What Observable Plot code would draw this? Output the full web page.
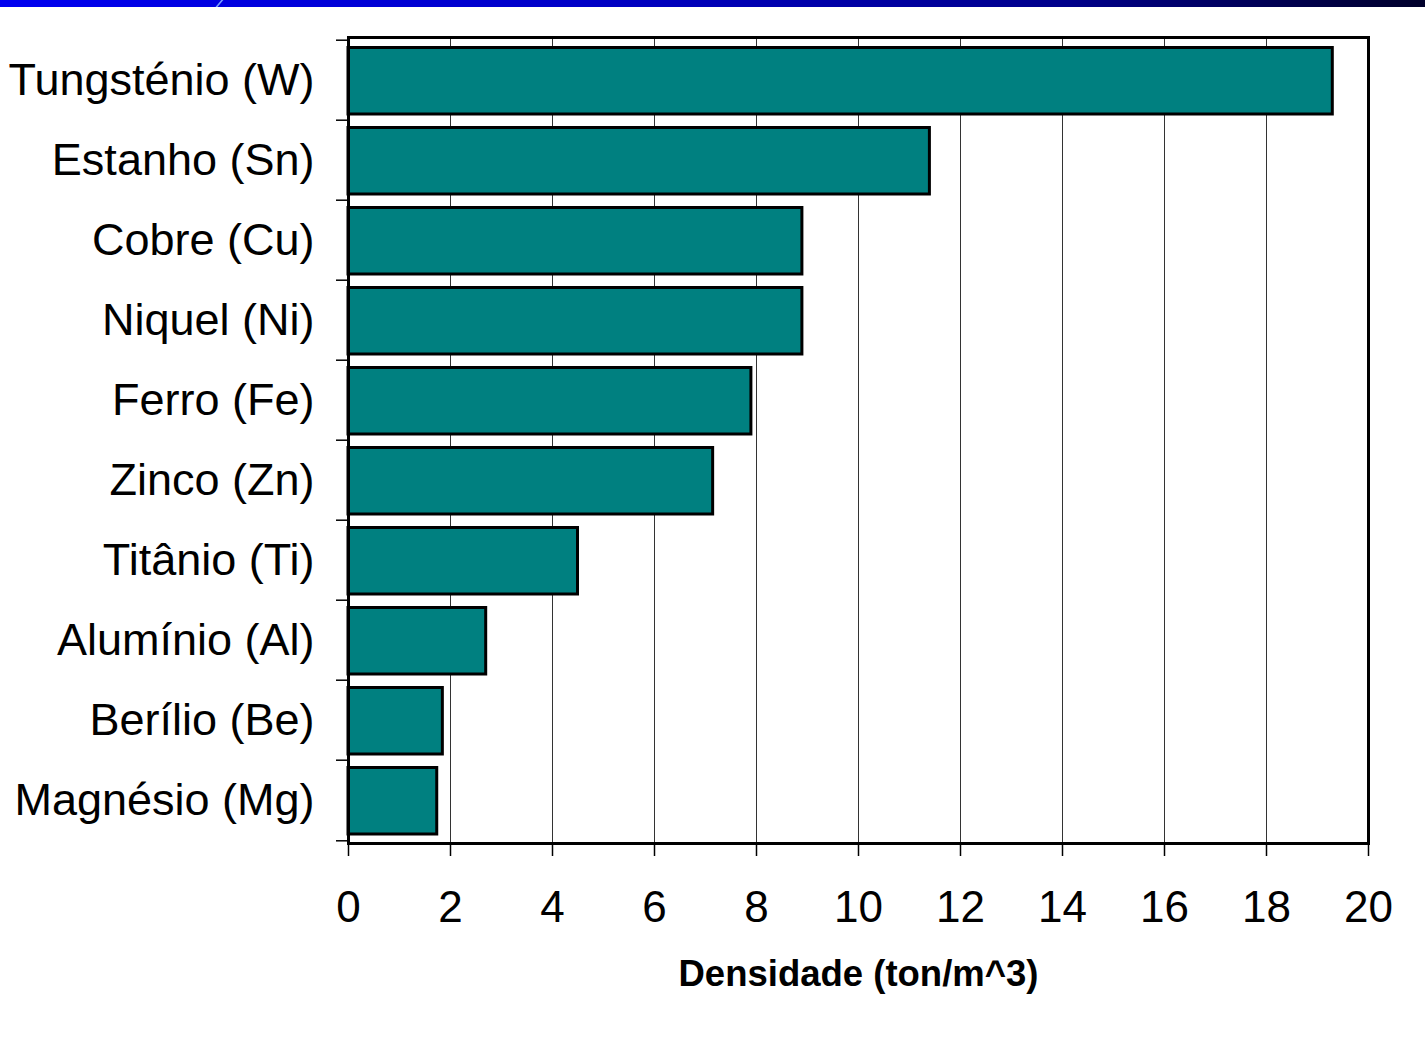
<!DOCTYPE html>
<html>
<head>
<meta charset="utf-8">
<script src="https://cdn.jsdelivr.net/npm/d3@7"></script>
<script src="https://cdn.jsdelivr.net/npm/@observablehq/plot@0.6"></script>
<style>
  html, body { margin: 0; padding: 0; background: #fff; }
  body { width: 1425px; height: 1042px; overflow: hidden; font-family: "Liberation Sans", Arial, sans-serif; position: relative; }
  #banner { height: 7px; background: linear-gradient(to right, #0000f0 0%, #0000c8 40%, #00008a 75%, #00002a 100%); position: relative; overflow: hidden; }
  #banner .streak { position: absolute; left: 218px; top: -2px; width: 2px; height: 12px; background: #7aa0ff; transform: skewX(-40deg); }
  #chart svg { display: block; }
</style>
</head>
<body>
<div id="banner"><div class="streak"></div></div>
<div id="chart"></div>
<script>
// Densidade de metais (ton/m^3), de cima para baixo
const metals = [
  "Tungsténio (W)", "Estanho (Sn)", "Cobre (Cu)", "Niquel (Ni)", "Ferro (Fe)",
  "Zinco (Zn)", "Titânio (Ti)", "Alumínio (Al)", "Berílio (Be)", "Magnésio (Mg)"
];
const densities = [19.3, 11.4, 8.9, 8.9, 7.9, 7.15, 4.5, 2.7, 1.85, 1.74];
const xTicks = [0, 2, 4, 6, 8, 10, 12, 14, 16, 18, 20];
const xTitle = "Densidade (ton/m^3)";

const data = metals.map((name, i) => ({name, value: densities[i]}));

const width = 1425, height = 1035;
const margin = {top: 30, right: 57, bottom: 199, left: 348};
const step = (height - margin.top - margin.bottom) / metals.length;

const chart = Plot.plot({
  width, height,
  marginTop: margin.top, marginRight: margin.right,
  marginBottom: margin.bottom, marginLeft: margin.left,
  style: {fontFamily: "'Liberation Sans', Arial, sans-serif", background: "#fff", color: "#000", overflow: "visible"},
  x: {domain: [0, 20]},
  y: {domain: metals, padding: 0},
  marks: [
    Plot.gridX(xTicks, {stroke: "#333", strokeOpacity: 1, strokeWidth: 1}),
    Plot.barX(data, {
      x: "value", y: "name",
      fill: "#008080", stroke: "#000", strokeWidth: 3,
      insetTop: 7.5, insetBottom: 6
    }),
    Plot.frame({stroke: "#000", strokeWidth: 3}),
    // category labels
    Plot.axisY({tickSize: 0, tickPadding: 34, fontSize: 45, label: null}),
    // tick marks between categories
    Plot.axisY({text: null, tickSize: 12, dy: -step / 2, stroke: "#000", strokeWidth: 1.5, label: null}),
    Plot.axisY([metals[metals.length - 1]], {text: null, tickSize: 12, dy: step / 2, stroke: "#000", strokeWidth: 1.5, label: null}),
    Plot.axisX(xTicks, {tickSize: 13, tickPadding: 34, fontSize: 44, stroke: "#000", strokeWidth: 1.5, label: null}),
    Plot.text([xTitle], {frameAnchor: "bottom", dy: 142, fontSize: 36.5, fontWeight: "bold", fill: "#000"})
  ]
});

document.getElementById("chart").append(chart);
</script>
</body>
</html>
